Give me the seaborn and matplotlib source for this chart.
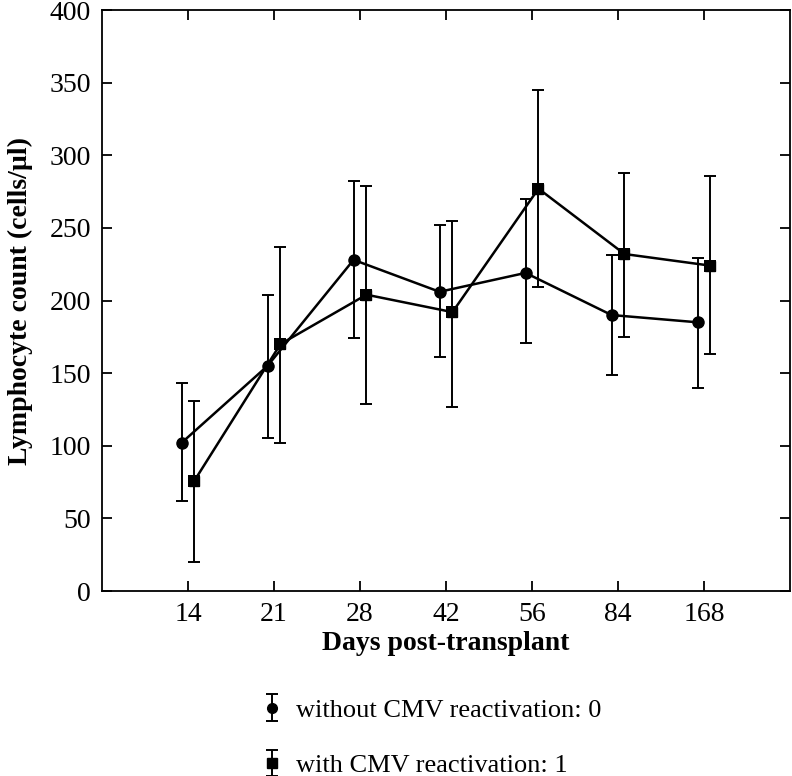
import numpy as np
import pandas as pd
import matplotlib
matplotlib.use("Agg")
import matplotlib.pyplot as plt
import seaborn as sns

days = ["14", "21", "28", "42", "56", "84", "168"]

without_mean = [102, 155, 228, 206, 219, 190, 185]
without_upper = [143, 204, 282, 252, 270, 231, 229]
without_lower = [62, 105, 174, 161, 171, 149, 140]

with_mean = [76, 170, 204, 192, 277, 232, 224]
with_upper = [131, 237, 279, 255, 345, 288, 286]
with_lower = [20, 102, 129, 127, 209, 175, 163]

label_without = "without CMV reactivation: 0"
label_with = "with CMV reactivation: 1"

sns.set_theme(style="ticks")
plt.rcParams["font.family"] = ["Liberation Serif", "DejaVu Serif"]
plt.rcParams["text.color"] = "black"
plt.rcParams["axes.labelcolor"] = "black"

fig = plt.figure(figsize=(7.92, 7.76), dpi=100)
ax = fig.add_axes([0.1288, 0.2384, 0.8687, 0.7487])

pos = np.arange(len(days))
off = 0.075

df = pd.concat([
    pd.DataFrame({"x": pos - off, "y": without_mean, "grp": label_without}),
    pd.DataFrame({"x": pos + off, "y": with_mean, "grp": label_with}),
])

sns.lineplot(
    data=df, x="x", y="y", hue="grp", style="grp",
    markers={label_without: "o", label_with: "s"},
    dashes=False, palette=["black", "black"],
    linewidth=1.8, markersize=9, markeredgewidth=0,
    legend=False, ax=ax,
)

handles = []
for shift, m, up, lo, mk in [
    (-off, without_mean, without_upper, without_lower, "o"),
    (off, with_mean, with_upper, with_lower, "s"),
]:
    m = np.array(m)
    err = [m - np.array(lo), np.array(up) - m]
    h = ax.errorbar(pos + shift, m, yerr=err, fmt=mk, color="black", ms=7,
                    elinewidth=1.4, capsize=4.5, capthick=1.4)
    handles.append(h)

ax.set_xlim(-1, len(days))
ax.set_ylim(0, 400)
ax.set_xticks(pos)
ax.set_xticklabels(days)
ax.set_yticks(range(0, 401, 50))

ax.tick_params(axis="both", direction="in", length=7, width=1.3,
               labelsize=20, top=True, right=True, color="black",
               labelcolor="black", pad=8)
for s in ax.spines.values():
    s.set_linewidth(1.3)
    s.set_color("black")

ax.set_xlabel("Days post-transplant", fontsize=20, fontweight="bold", labelpad=3)
ax.set_ylabel("Lymphocyte count (cells/µl)", fontsize=20, fontweight="bold", labelpad=12)

fig.legend(handles=handles, labels=[label_without, label_with],
           loc="upper left", bbox_to_anchor=(0.33, 0.10), frameon=False,
           fontsize=19, handlelength=0.8, handletextpad=0.5, labelspacing=1.2,
           borderaxespad=0, borderpad=0)

fig.savefig("out.png", dpi=100)
plt.close(fig)
